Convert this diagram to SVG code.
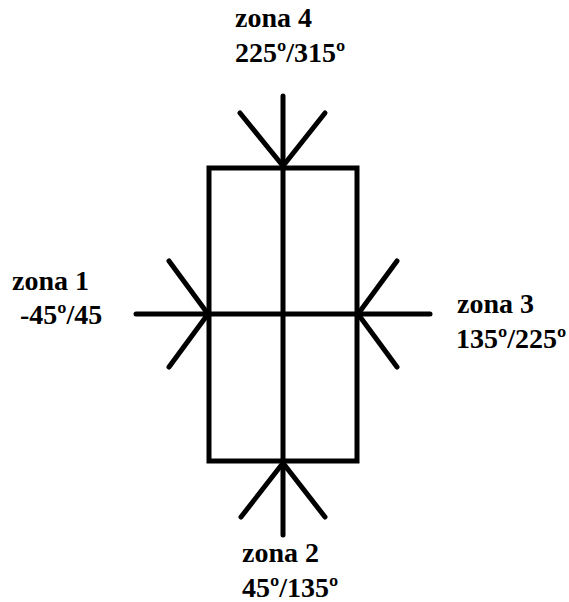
<svg xmlns="http://www.w3.org/2000/svg" width="569" height="602" viewBox="0 0 569 602">
  <style>
    .ln { stroke: #000; stroke-width: 5; fill: none; stroke-linecap: round; stroke-linejoin: miter; }
    .box { stroke: #000; stroke-width: 5; fill: none; stroke-linecap: square; }
    .lbl { font-family: "Liberation Serif", "Times New Roman", serif; font-weight: bold; font-size: 28px; fill: #000; }
  </style>
  <rect width="569" height="602" fill="#fff"/>
  <g id="frame">
    <rect class="box" x="209" y="168" width="148" height="293"/>
    <line class="box" x1="283" y1="168" x2="283" y2="461"/>
    <line class="box" x1="209" y1="314" x2="357" y2="314"/>
  </g>
  <g id="connectors">
    <!-- top -->
    <line class="ln" x1="283" y1="96" x2="283" y2="168"/>
    <line class="ln" x1="240" y1="113" x2="283" y2="166"/>
    <line class="ln" x1="325" y1="113" x2="283" y2="166"/>
    <!-- bottom -->
    <line class="ln" x1="283" y1="461" x2="283" y2="535"/>
    <line class="ln" x1="283" y1="463" x2="241" y2="517"/>
    <line class="ln" x1="283" y1="463" x2="325" y2="517"/>
    <!-- left -->
    <line class="ln" x1="136" y1="314" x2="209" y2="314"/>
    <line class="ln" x1="169" y1="261" x2="208" y2="314"/>
    <line class="ln" x1="169" y1="367" x2="208" y2="314"/>
    <!-- right -->
    <line class="ln" x1="357" y1="314" x2="430" y2="314"/>
    <line class="ln" x1="397" y1="261" x2="358" y2="314"/>
    <line class="ln" x1="397" y1="367" x2="358" y2="314"/>
  </g>
  <g id="zona4">
    <text class="lbl" x="235" y="27">zona 4</text>
    <text class="lbl" x="235" y="62">225º/315º</text>
  </g>
  <g id="zona1">
    <text class="lbl" x="12" y="290">zona 1</text>
    <text class="lbl" x="20" y="324">-45º/45</text>
  </g>
  <g id="zona3">
    <text class="lbl" x="457" y="313">zona 3</text>
    <text class="lbl" x="456" y="348">135º/225º</text>
  </g>
  <g id="zona2">
    <text class="lbl" x="242" y="562">zona 2</text>
    <text class="lbl" x="242" y="597">45º/135º</text>
  </g>
</svg>
